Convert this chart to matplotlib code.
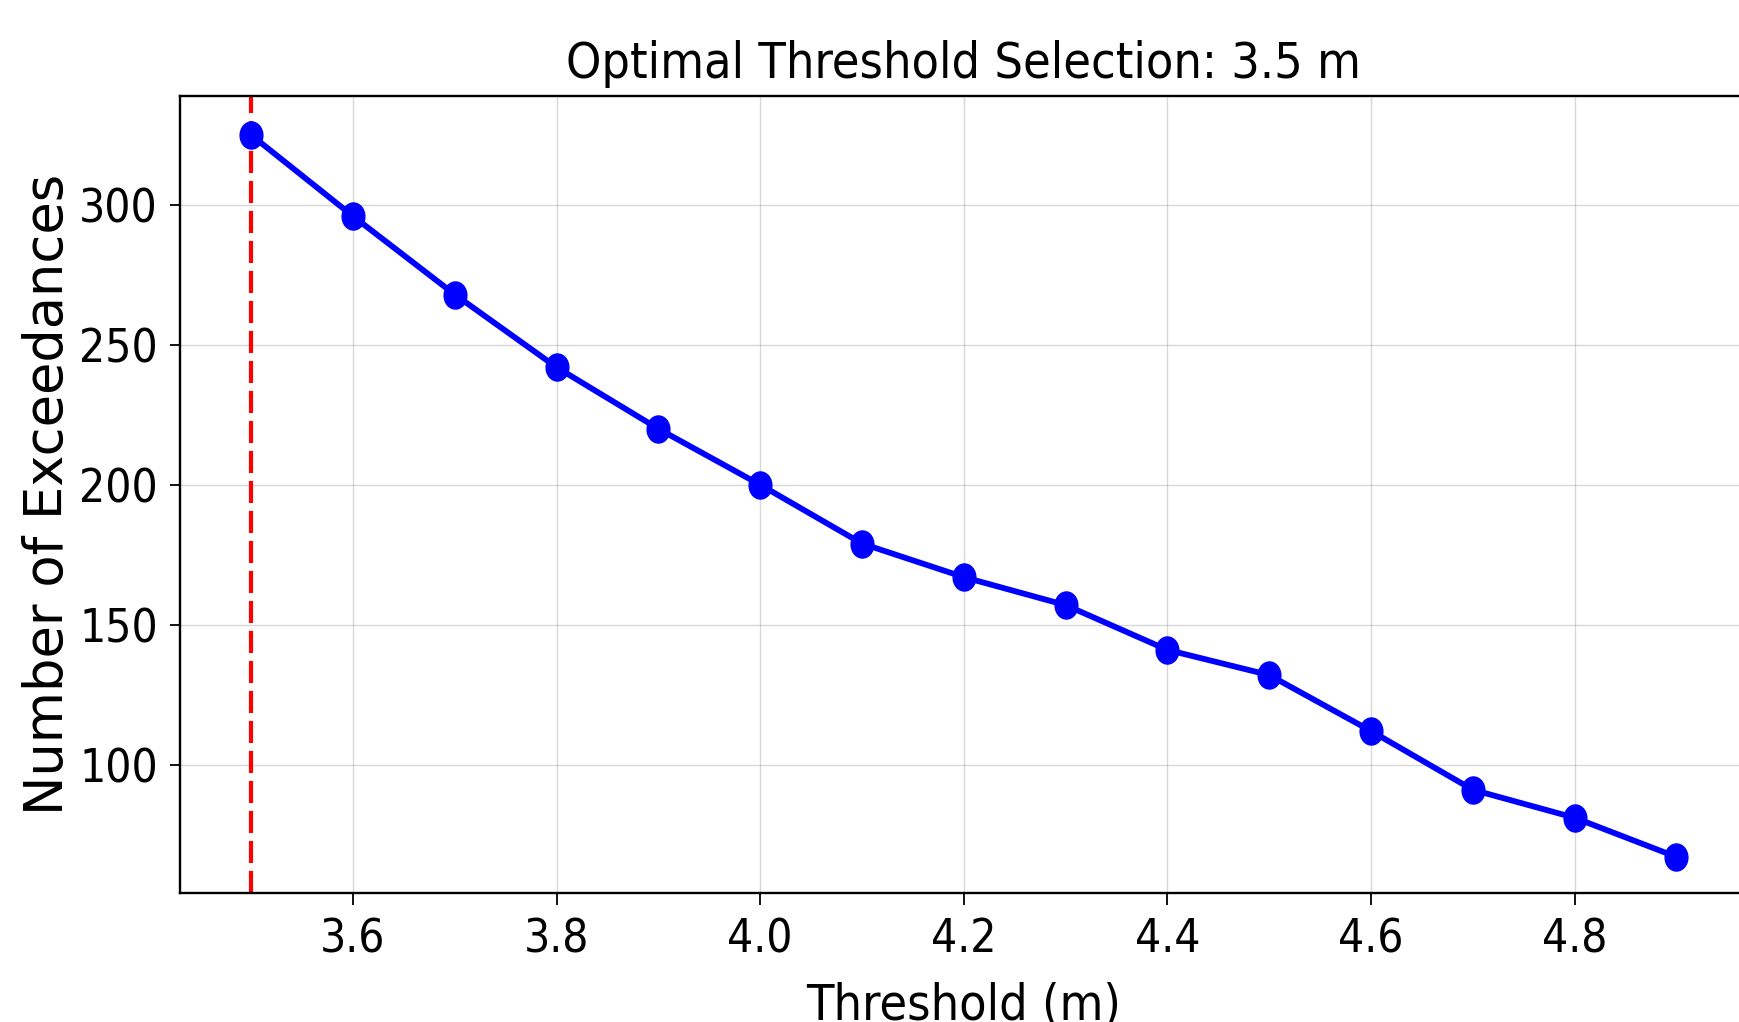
import matplotlib

matplotlib.use("Agg")

import matplotlib.pyplot as plt
from matplotlib import font_manager
from matplotlib.path import Path
from matplotlib.transforms import Affine2D

# threshold sweep
thresholds = [3.5, 3.6, 3.7, 3.8, 3.9, 4.0, 4.1, 4.2, 4.3, 4.4, 4.5, 4.6, 4.7, 4.8, 4.9]
exceedances = [325, 296, 268, 242, 220, 200, 179, 167, 157, 141, 132, 112, 91, 81, 67]
optimal_threshold = 3.5

x_ticks = [3.6, 3.8, 4.0, 4.2, 4.4, 4.6, 4.8]
y_ticks = [100, 150, 200, 250, 300]


def narrow_font():
    """Return text kwargs for a condensed sans face, whatever is installed."""
    props = font_manager.FontProperties(family="DejaVu Sans", stretch="condensed")
    path = font_manager.findfont(props)
    if "condensed" in path.lower():
        return {"fontfamily": "DejaVu Sans", "fontstretch": "condensed"}
    for name in ["Liberation Sans Narrow", "Liberation Sans"]:
        try:
            font_manager.findfont(font_manager.FontProperties(family=name),
                                  fallback_to_default=False)
            return {"fontfamily": name}
        except ValueError:
            continue
    return {"fontfamily": "DejaVu Sans"}


narrow = narrow_font()

fig = plt.figure(figsize=(17.39, 10.22), dpi=100)
ax = fig.add_axes([0.1035, 0.1262, 0.9015, 0.7794])

# slightly tall ellipse, like the reference markers
oval = Path.unit_circle().transformed(Affine2D().scale(0.84, 1.0))

ax.plot(thresholds, exceedances, color="blue", linewidth=4.2,
        marker=oval, markersize=19.5, zorder=3)
ax.axvline(optimal_threshold, color="red", linewidth=3.0,
           dashes=(5.3, 1.9), zorder=2)

ax.set_xticks(x_ticks)
ax.set_yticks(y_ticks)
ax.set_xlim(3.43, 4.97)
ax.set_ylim(54.1, 338.8)
ax.set_xticklabels([f"{v:.1f}" for v in x_ticks], fontsize=33, **narrow)
ax.set_yticklabels([str(v) for v in y_ticks], fontsize=33, **narrow)

ax.grid(True, color="gray", alpha=0.3, linewidth=1.0)
ax.tick_params(axis="x", length=8.6, width=1.3, pad=9)
ax.tick_params(axis="y", length=7, width=1.3, pad=9)
for spine in ax.spines.values():
    spine.set_linewidth(1.7)

ax.set_title("Optimal Threshold Selection: 3.5 m", fontsize=36, pad=13, **narrow)
ax.set_xlabel("Threshold (m)", fontsize=36, labelpad=14, **narrow)
ax.set_ylabel("Number of Exceedances", fontfamily="DejaVu Sans",
              fontsize=38, labelpad=4)

fig.savefig("out.png", dpi=100)
